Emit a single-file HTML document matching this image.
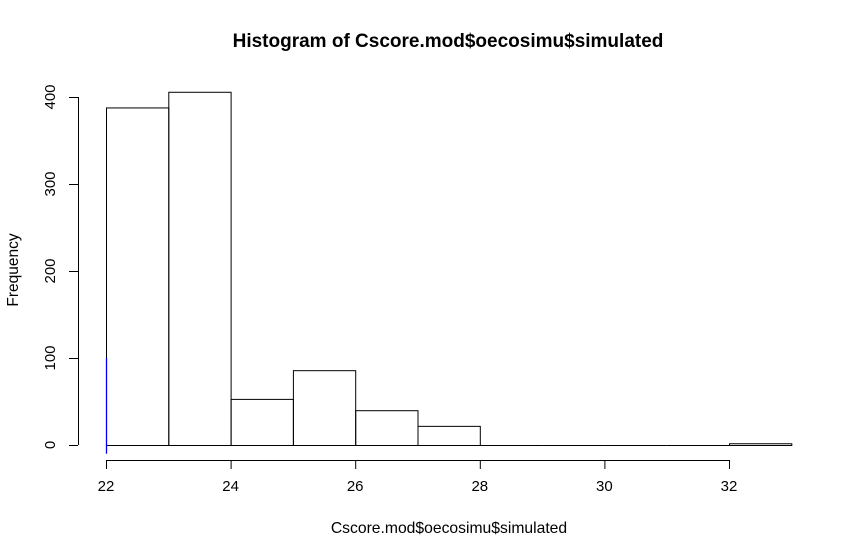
<!DOCTYPE html>
<html><head><meta charset="utf-8"><style>
body{margin:0;background:#fff}
svg{display:block;font-family:"Liberation Sans",Arial,sans-serif}
</style></head><body>
<svg id="c" width="860" height="558">
<text x="448" y="47" text-anchor="middle" font-weight="bold" font-size="19">Histogram of Cscore.mod$oecosimu$simulated</text>
<text x="449" y="533" text-anchor="middle" font-size="15.7">Cscore.mod$oecosimu$simulated</text>
<text transform="translate(18,270) rotate(-90)" text-anchor="middle" font-size="15.5">Frequency</text>
<g id="bars"></g><g id="xa"></g><g id="ya"></g>
</svg>
<script>
const binStarts=[22,23,24,25,26,27,28,29,30,31,32];
const counts=[388,406,53,86,40,22,0,0,0,0,2];
const xTicks=[22,24,26,28,30,32];
const yTicks=[0,100,200,300,400];
const x=v=>106+(v-22)*62.3;
const y=v=>445-v*0.87;
const ns="http://www.w3.org/2000/svg";
function mk(t,a,p){const e=document.createElementNS(ns,t);for(const k in a)e.setAttribute(k,a[k]);p.appendChild(e);return e;}
const bars=document.getElementById('bars');
binStarts.forEach((b,i)=>{
 let r;
 if(counts[i]===0){
  r=mk('line',{x1:x(b),x2:x(b+1),y1:y(0)+0.5,y2:y(0)+0.5,stroke:'#000','stroke-width':1},bars);
 } else {
  r=mk('rect',{x:x(b)+0.5,y:y(counts[i])+0.5,width:x(b+1)-x(b),height:y(0)-y(counts[i]),fill:'none',stroke:'#000','stroke-width':1},bars);
 }
 
 
});
const bl=mk('line',{x1:106.5,x2:106.5,y1:y(-10),y2:y(100),stroke:'#00f','stroke-width':1.3},bars);


const xa=document.getElementById('xa');


mk('line',{x1:x(22),x2:x(32),y1:460.5,y2:460.5,stroke:'#000'},xa);
xTicks.forEach(t=>{mk('line',{x1:x(t)+0.5,x2:x(t)+0.5,y1:460,y2:469,stroke:'#000'},xa);
 const tx=mk('text',{x:x(t),y:491,'text-anchor':'middle','font-size':15},xa);tx.textContent=t;
 
 });
const ya=document.getElementById('ya');


mk('line',{x1:78.5,x2:78.5,y1:y(0),y2:y(400),stroke:'#000'},ya);
yTicks.forEach(t=>{mk('line',{x1:69,x2:78,y1:y(t)+0.5,y2:y(t)+0.5,stroke:'#000'},ya);
 const tx=mk('text',{transform:`translate(55,${y(t)}) rotate(-90)`,'text-anchor':'middle','font-size':15},ya);tx.textContent=t;
 
 });
</script>
</body></html>
